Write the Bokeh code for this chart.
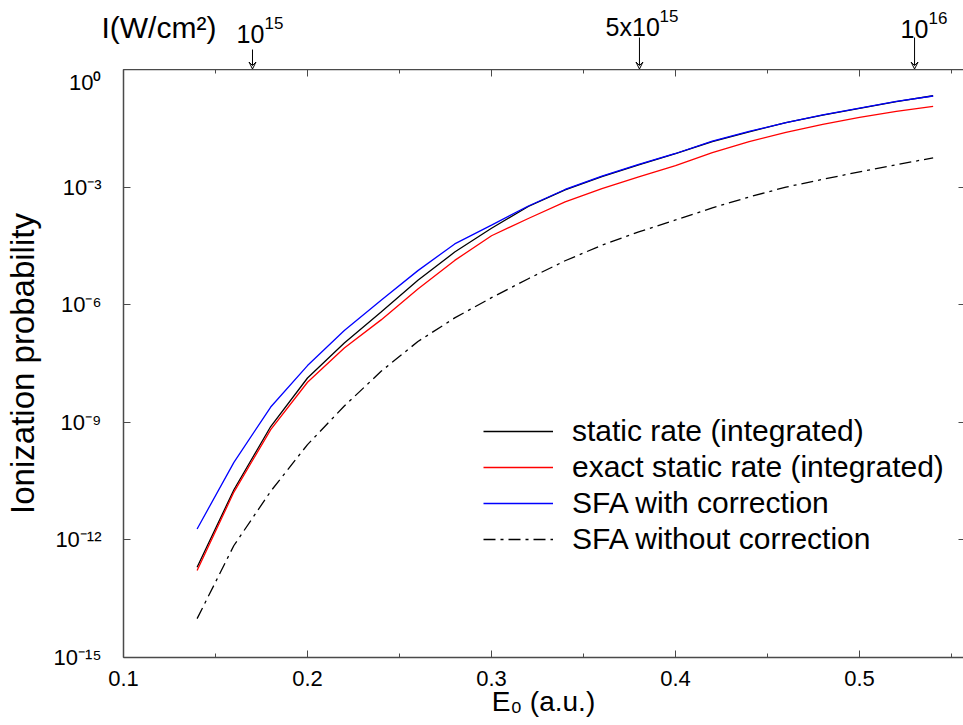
from bokeh.plotting import figure
from bokeh.layouts import column
from bokeh.models import (FixedTicker, LinearAxis, LogAxis, Legend, LegendItem,
                          Label, Arrow, VeeHead, Range1d, CustomJSTickFormatter)
from bokeh.embed import file_html
from bokeh.resources import INLINE

# ---------------- data ----------------
E0 = [0.14, 0.16, 0.18, 0.20, 0.22, 0.24, 0.26, 0.28, 0.30, 0.32, 0.34,
      0.36, 0.38, 0.40, 0.42, 0.44, 0.46, 0.48, 0.50, 0.52, 0.54]

static_rate = [2.0e-13, 1.9e-11, 7.8e-10, 1.35e-8, 1.05e-7, 6.5e-7, 4.2e-6,
               2.2e-5, 8.9e-5, 3.2e-4, 8.5e-4, 1.86e-3, 3.7e-3, 7.1e-3,
               1.45e-2, 2.57e-2, 4.4e-2, 6.9e-2, 0.102, 0.151, 0.214]

exact_static_rate = [1.66e-13, 1.66e-11, 6.5e-10, 1.05e-8, 7.9e-8, 4.1e-7,
                     2.5e-6, 1.35e-5, 5.75e-5, 1.58e-4, 4.2e-4, 9.1e-4,
                     1.82e-3, 3.55e-3, 7.6e-3, 1.45e-2, 2.5e-2, 4.0e-2,
                     6.0e-2, 8.5e-2, 0.115]

sfa_with_corr = [1.9e-12, 9.5e-11, 2.45e-9, 2.8e-8, 2.2e-7, 1.29e-6, 7.4e-6,
                 3.55e-5, 1.07e-4, 3.3e-4, 8.7e-4, 1.9e-3, 3.8e-3, 7.2e-3,
                 1.48e-2, 2.63e-2, 4.4e-2, 7.0e-2, 0.1035, 0.153, 0.211]

sfa_without_corr = [9.8e-15, 7.2e-13, 1.74e-11, 2.7e-10, 2.6e-9, 2.0e-8,
                    1.15e-7, 4.6e-7, 1.51e-6, 4.6e-6, 1.32e-5, 3.3e-5, 7.2e-5,
                    1.45e-4, 2.95e-4, 5.6e-4, 1.0e-3, 1.58e-3, 2.45e-3,
                    3.7e-3, 5.6e-3]

legend_labels = ["static rate (integrated)",
                 "exact static rate (integrated)",
                 "SFA with correction",
                 "SFA without correction"]

x_ticks = [0.1, 0.2, 0.3, 0.4, 0.5]
x_minor_ticks = [0.15, 0.25, 0.35, 0.45, 0.55]
y_ticks = [1e-15, 1e-12, 1e-9, 1e-6, 1e-3, 1e0]
y_tick_labels = ["10\u207b\u00b9\u2075", "10\u207b\u00b9\u00b2", "10\u207b\u2079",
                 "10\u207b\u2076", "10\u207b\u00b3", "10\u2070"]

# intensity scale marked above the plot
intensity_title = "I(W/cm\u00b2)"
intensity_pos = [0.1701, 0.3804, 0.5299]          # E0 of the intensity marks
intensity_bases = ["10", "5x10", "10"]
intensity_exps = ["15", "15", "16"]

FONT = "Liberation Sans"
AXC = "#4a4a4a"
X0, X1 = 0.1, 0.5565          # data range of the main frame
PX_PER_UNIT = 1840.0          # frame scale (px per a.u.)
FRAME_LEFT = 123              # px

# ---------------- top strip (intensity marks) ----------------
top_fig = figure(width=963, height=69,
                 x_range=Range1d(X0 - FRAME_LEFT / PX_PER_UNIT, X1),
                 y_range=Range1d(0, 69),
                 output_backend="svg", toolbar_location=None,
                 x_axis_location=None, y_axis_location=None,
                 min_border_left=0, min_border_right=0,
                 min_border_top=0, min_border_bottom=0)
top_fig.outline_line_color = None
top_fig.grid.visible = False
top_fig.frame_align = False

arrow_top = [20, 32, 32]
base_y = [35.7, 42.7, 40.7]
exp_y = [47, 54, 52]
label_left = [0.1614, 0.362, 0.5223]
base_width_px = [28, 54, 28]
for xp, yt in zip(intensity_pos, arrow_top):
    top_fig.add_layout(Arrow(end=VeeHead(size=7, line_color="black",
                                         line_width=1, fill_color=None),
                             x_start=xp, y_start=yt, x_end=xp, y_end=0.5,
                             line_color="black", line_width=1))
for xl, yb, ye, wpx, b, e in zip(label_left, base_y, exp_y, base_width_px,
                                 intensity_bases, intensity_exps):
    top_fig.add_layout(Label(x=xl, y=yb, text=b, text_font=FONT,
                             text_font_size="25px", text_color="black",
                             text_align="left", text_baseline="alphabetic"))
    top_fig.add_layout(Label(x=xl, y=ye, x_offset=wpx, text=e,
                             text_font=FONT, text_font_size="17px",
                             text_color="black", text_align="left",
                             text_baseline="alphabetic"))
top_fig.add_layout(Label(x=0.088, y=42.4, text=intensity_title, text_font=FONT,
                         text_font_size="30px", text_color="black",
                         text_align="left", text_baseline="alphabetic"))

# ---------------- main plot ----------------
p = figure(width=963, height=656,
           x_range=Range1d(X0, X1), y_range=Range1d(1e-15, 1.0),
           y_axis_type="log", output_backend="svg", toolbar_location=None,
           min_border_left=FRAME_LEFT, min_border_right=0,
           min_border_top=0, min_border_bottom=68)
p.outline_line_color = None
p.grid.visible = False
p.background_fill_color = "white"
p.frame_align = False

xa = p.xaxis[0]
xa.ticker = FixedTicker(ticks=x_ticks, minor_ticks=x_minor_ticks)
xa.axis_label = "E\u2080 (a.u.)"
ya = p.yaxis[0]
ya.ticker = FixedTicker(ticks=y_ticks, minor_ticks=[])
ya.major_label_overrides = dict(zip(y_ticks, y_tick_labels))
ya.axis_label = "Ionization probability"

for ax in (xa, ya):
    ax.axis_line_color = AXC
    ax.axis_line_width = 1.5
    ax.major_tick_line_color = AXC
    ax.minor_tick_line_color = AXC
    ax.major_tick_in = 7
    ax.major_tick_out = 0
    ax.minor_tick_in = 4
    ax.minor_tick_out = 0
    ax.major_label_text_font = FONT
    ax.major_label_text_color = "black"
    ax.major_label_text_font_size = "22px"
    ax.axis_label_text_font = FONT
    ax.axis_label_text_font_style = "normal"
    ax.axis_label_text_color = "black"
xa.major_label_standoff = 13
xa.axis_label_text_font_size = "28px"
xa.axis_label_standoff = -3
ya.major_label_standoff = 22
ya.axis_label_text_font_size = "33px"
ya.axis_label_standoff = 10

top = LinearAxis(ticker=FixedTicker(ticks=x_ticks, minor_ticks=x_minor_ticks),
                 formatter=CustomJSTickFormatter(code="return ''"))
right = LogAxis(ticker=FixedTicker(ticks=y_ticks, minor_ticks=[]),
                formatter=CustomJSTickFormatter(code="return ''"))
for ax in (top, right):
    ax.axis_line_color = AXC
    ax.axis_line_width = 1.5
    ax.major_tick_line_color = AXC
    ax.minor_tick_line_color = AXC
    ax.major_tick_in = 7
    ax.major_tick_out = 0
    ax.minor_tick_in = 4
    ax.minor_tick_out = 0
    ax.major_label_standoff = 0
    ax.major_label_text_font_size = "0px"
right.major_tick_in = 5
right.axis_line_alpha = 0
p.add_layout(top, "above")
p.add_layout(right, "right")

r1 = p.line(E0, static_rate, line_color="black", line_width=1.3)
r2 = p.line(E0, exact_static_rate, line_color="red", line_width=1.3)
r3 = p.line(E0, sfa_with_corr, line_color="blue", line_width=1.3)
r4 = p.line(E0, sfa_without_corr, line_color="black", line_width=1.3,
            line_dash="12 5 3 5")

legend = Legend(items=[LegendItem(label=l, renderers=[r])
                       for l, r in zip(legend_labels, [r1, r2, r3, r4])],
                location=(360, 100), orientation="vertical")
legend.label_text_font = FONT
legend.label_text_font_size = "30px"
legend.label_text_color = "black"
legend.glyph_width = 70
legend.glyph_height = 36
legend.label_height = 36
legend.label_standoff = 19
legend.spacing = 0
legend.padding = 0
legend.margin = 0
legend.border_line_color = None
legend.background_fill_alpha = 0
p.add_layout(legend, "center")

layout = column(top_fig, p, spacing=0)
open("out.html", "w").write(file_html(layout, INLINE))
